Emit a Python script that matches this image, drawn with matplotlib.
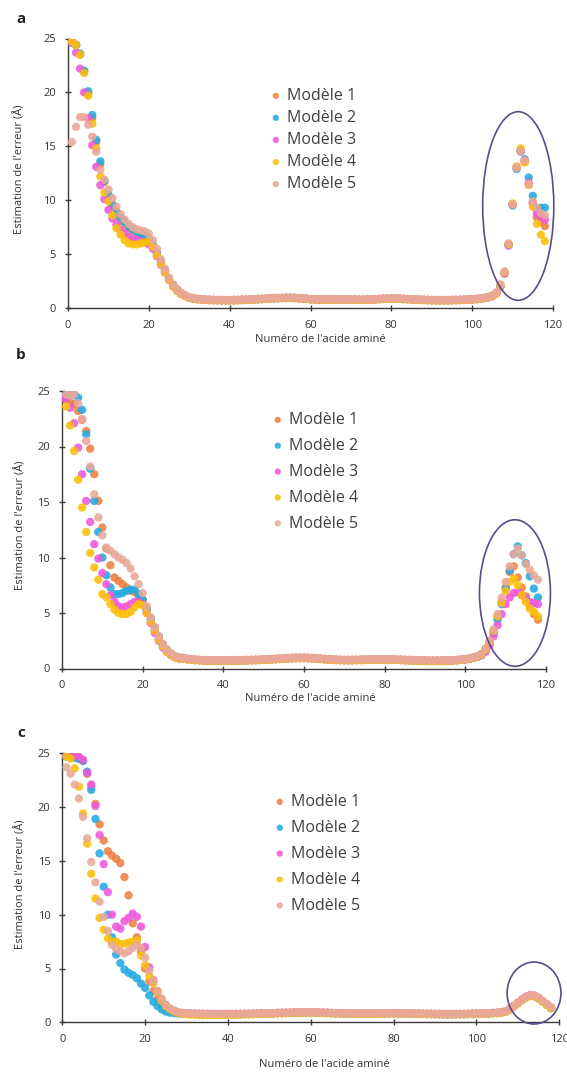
import numpy as np
import matplotlib
matplotlib.use('Agg')
import matplotlib.pyplot as plt
from matplotlib.patches import Ellipse

plt.rcParams['font.family'] = ['Open Sans', 'DejaVu Sans']

residues = list(range(1, 119))
model_names = ['Modèle 1', 'Modèle 2', 'Modèle 3', 'Modèle 4', 'Modèle 5']
model_colors = ['#EE8040', '#22AAE2', '#EE58DA', '#FBC00A', '#E9A89A']

# ---- panel a ----
a_m1 = [24.7, 24.4, 23.5, 22.0, 19.9, 17.6, 15.4, 13.3, 11.7, 10.4,
        9.5, 8.8, 8.2, 7.8, 7.4, 7.2, 7.0, 6.9, 6.7, 6.4,
        5.8, 5.0, 4.2, 3.4, 2.7, 2.1, 1.7, 1.35, 1.15,
        1.0, 0.9, 0.85, 0.8, 0.78, 0.76, 0.75, 0.74, 0.74, 0.73,
        0.73, 0.74, 0.75, 0.76, 0.77, 0.79, 0.81, 0.83, 0.85, 0.87,
        0.89, 0.91, 0.93, 0.94, 0.95, 0.95, 0.94, 0.92, 0.89, 0.86,
        0.83, 0.81, 0.8, 0.79, 0.79, 0.79, 0.8, 0.81, 0.81, 0.8,
        0.79, 0.78, 0.77, 0.77, 0.78, 0.8, 0.82, 0.84, 0.86, 0.87,
        0.88, 0.88, 0.87, 0.85, 0.83, 0.81, 0.79, 0.77, 0.76, 0.75,
        0.74, 0.73, 0.73, 0.73, 0.73, 0.74, 0.75, 0.76, 0.77, 0.79,
        0.81, 0.84, 0.88, 0.94, 1.02, 1.15, 1.4, 2.1, 3.3, 5.9,
        9.6, 13.0, 14.6, 13.6, 11.5, 9.8, 8.4, 8.0, 7.6]
a_m2 = [24.6, 24.4, 23.6, 22.0, 20.1, 17.9, 15.6, 13.6, 11.8, 10.5,
        9.6, 8.9, 8.4, 8.0, 7.6, 7.3, 7.1, 6.9, 6.7, 6.4,
        5.9, 5.1, 4.3, 3.5, 2.7, 2.1, 1.7, 1.35, 1.15,
        0.98, 0.88, 0.83, 0.79, 0.77, 0.75, 0.74, 0.73, 0.72, 0.72,
        0.72, 0.73, 0.74, 0.75, 0.76, 0.78, 0.8, 0.82, 0.84, 0.86,
        0.88, 0.9, 0.92, 0.93, 0.94, 0.94, 0.93, 0.91, 0.88, 0.85,
        0.82, 0.8, 0.79, 0.78, 0.78, 0.78, 0.79, 0.8, 0.8, 0.79,
        0.78, 0.77, 0.76, 0.76, 0.77, 0.79, 0.81, 0.83, 0.85, 0.86,
        0.87, 0.87, 0.86, 0.84, 0.82, 0.8, 0.78, 0.76, 0.75, 0.74,
        0.73, 0.72, 0.72, 0.72, 0.72, 0.73, 0.74, 0.75, 0.76, 0.78,
        0.8, 0.83, 0.87, 0.93, 1.0, 1.12, 1.38, 2.0, 3.2, 5.8,
        9.5, 12.9, 14.5, 13.8, 12.1, 10.4, 9.2, 9.3, 9.3]
a_m3 = [24.6, 23.7, 22.2, 20.0, 17.6, 15.1, 13.1, 11.4, 10.1, 9.1,
        8.3, 7.7, 7.2, 6.9, 6.6, 6.4, 6.3, 6.2, 6.1, 5.9,
        5.5, 4.8, 4.0, 3.3, 2.6, 2.0, 1.6, 1.3, 1.1,
        0.95, 0.86, 0.81, 0.78, 0.76, 0.74, 0.73, 0.72, 0.72, 0.71,
        0.71, 0.72, 0.73, 0.74, 0.75, 0.77, 0.79, 0.81, 0.83, 0.85,
        0.87, 0.89, 0.91, 0.92, 0.93, 0.93, 0.92, 0.9, 0.87, 0.84,
        0.81, 0.79, 0.78, 0.77, 0.77, 0.77, 0.78, 0.79, 0.79, 0.78,
        0.77, 0.76, 0.75, 0.75, 0.76, 0.78, 0.8, 0.82, 0.84, 0.85,
        0.86, 0.86, 0.85, 0.83, 0.81, 0.79, 0.77, 0.75, 0.74, 0.73,
        0.72, 0.71, 0.71, 0.71, 0.71, 0.72, 0.73, 0.74, 0.75, 0.77,
        0.79, 0.82, 0.86, 0.92, 0.99, 1.1, 1.35, 2.0, 3.2, 5.8,
        9.6, 13.1, 14.6, 13.6, 11.6, 9.7, 8.8, 8.5, 8.2]
a_m4 = [24.7, 24.4, 23.5, 21.8, 19.7, 17.1, 14.8, 12.2, 10.7, 9.9,
        8.6, 7.4, 6.8, 6.3, 6.0, 5.9, 5.9, 6.0, 6.1, 6.2,
        5.7, 4.9, 4.1, 3.3, 2.6, 2.0, 1.6, 1.3, 1.1,
        0.95, 0.85, 0.8, 0.77, 0.75, 0.73, 0.72, 0.71, 0.71, 0.7,
        0.7, 0.71, 0.72, 0.73, 0.74, 0.76, 0.78, 0.8, 0.82, 0.84,
        0.86, 0.88, 0.9, 0.91, 0.92, 0.92, 0.91, 0.89, 0.86, 0.83,
        0.8, 0.78, 0.77, 0.76, 0.76, 0.76, 0.77, 0.78, 0.78, 0.77,
        0.76, 0.75, 0.74, 0.74, 0.75, 0.77, 0.79, 0.81, 0.83, 0.84,
        0.85, 0.85, 0.84, 0.82, 0.8, 0.78, 0.76, 0.74, 0.73, 0.72,
        0.71, 0.7, 0.7, 0.7, 0.7, 0.71, 0.72, 0.73, 0.74, 0.76,
        0.78, 0.81, 0.85, 0.91, 0.98, 1.1, 1.35, 2.1, 3.3, 5.9,
        9.7, 13.1, 14.8, 13.5, 11.4, 9.4, 7.8, 6.8, 6.2]
a_m5 = [15.4, 16.8, 17.7, 17.7, 17.0, 15.9, 14.5, 12.8, 11.9, 11.0,
        10.2, 9.4, 8.7, 8.2, 7.8, 7.5, 7.3, 7.2, 7.1, 6.9,
        6.3, 5.5, 4.5, 3.6, 2.8, 2.2, 1.75, 1.4, 1.2,
        1.02, 0.92, 0.86, 0.82, 0.8, 0.78, 0.77, 0.76, 0.76, 0.75,
        0.75, 0.76, 0.77, 0.78, 0.79, 0.81, 0.83, 0.85, 0.87, 0.89,
        0.91, 0.93, 0.95, 0.96, 0.97, 0.97, 0.96, 0.94, 0.91, 0.88,
        0.85, 0.83, 0.82, 0.81, 0.81, 0.81, 0.82, 0.83, 0.83, 0.82,
        0.81, 0.8, 0.79, 0.79, 0.8, 0.82, 0.84, 0.86, 0.88, 0.89,
        0.9, 0.9, 0.89, 0.87, 0.85, 0.83, 0.81, 0.79, 0.78, 0.77,
        0.76, 0.75, 0.75, 0.75, 0.75, 0.76, 0.77, 0.78, 0.79, 0.81,
        0.83, 0.86, 0.9, 0.96, 1.04, 1.18, 1.45, 2.2, 3.4, 6.0,
        9.6, 13.0, 14.5, 13.7, 11.5, 9.9, 9.3, 8.8, 8.6]

# ---- panel b ----
b_m1 = [24.2, 24.0, 23.8, 23.2, 22.4, 21.4, 19.8, 17.5, 15.1, 12.7,
        10.8, 9.3, 8.2, 7.9, 7.6, 7.3, 7.0, 6.9, 6.6, 6.2,
        5.4, 4.5, 3.7, 2.9, 2.2, 1.7, 1.35, 1.1, 1.0,
        0.95, 0.88, 0.84, 0.8, 0.78, 0.76, 0.75, 0.74, 0.74, 0.74,
        0.74, 0.74, 0.75, 0.75, 0.76, 0.76, 0.77, 0.78, 0.79, 0.8,
        0.82, 0.84, 0.86, 0.88, 0.9, 0.92, 0.94, 0.96, 0.97, 0.98,
        0.98, 0.97, 0.95, 0.93, 0.9, 0.87, 0.84, 0.82, 0.8, 0.79,
        0.78, 0.78, 0.78, 0.79, 0.8, 0.81, 0.82, 0.83, 0.84, 0.84,
        0.84, 0.83, 0.82, 0.81, 0.8, 0.78, 0.77, 0.76, 0.75, 0.74,
        0.73, 0.72, 0.72, 0.72, 0.72, 0.73, 0.74, 0.76, 0.78, 0.81,
        0.85, 0.9, 0.98, 1.1, 1.3, 1.7, 2.4, 3.3, 4.6, 6.0,
        7.3, 8.7, 9.2, 8.2, 7.3, 6.5, 5.6, 4.9, 4.4]
b_m2 = [24.6, 24.7, 24.7, 24.4, 23.3, 21.1, 18.0, 15.1, 12.3, 10.0,
        8.4, 7.3, 6.7, 6.7, 6.8, 7.0, 7.1, 7.1, 6.7, 6.2,
        5.2, 4.3, 3.5, 2.7, 2.1, 1.6, 1.3, 1.1, 0.95,
        0.9, 0.84, 0.8, 0.77, 0.75, 0.73, 0.72, 0.71, 0.71, 0.71,
        0.71, 0.71, 0.72, 0.72, 0.73, 0.73, 0.74, 0.75, 0.76, 0.77,
        0.79, 0.81, 0.83, 0.85, 0.87, 0.89, 0.91, 0.93, 0.94, 0.95,
        0.95, 0.94, 0.92, 0.9, 0.87, 0.84, 0.81, 0.79, 0.77, 0.76,
        0.75, 0.75, 0.75, 0.76, 0.77, 0.78, 0.79, 0.8, 0.81, 0.81,
        0.81, 0.8, 0.79, 0.78, 0.77, 0.75, 0.74, 0.73, 0.72, 0.71,
        0.7, 0.69, 0.69, 0.69, 0.69, 0.7, 0.71, 0.73, 0.75, 0.78,
        0.82, 0.87, 0.95, 1.05, 1.2, 1.6, 2.3, 3.2, 4.4, 5.8,
        7.2, 8.8, 10.3, 11.0, 10.2, 9.5, 8.3, 7.2, 6.4]
b_m3 = [24.3, 23.5, 22.1, 19.9, 17.5, 15.1, 13.2, 11.2, 9.9, 8.6,
        7.6, 6.6, 6.0, 5.6, 5.5, 5.6, 5.8, 6.0, 6.0, 5.8,
        5.0, 4.1, 3.2, 2.5, 1.9, 1.5, 1.2, 1.0, 0.9,
        0.88, 0.83, 0.79, 0.76, 0.74, 0.72, 0.71, 0.7, 0.7, 0.7,
        0.7, 0.7, 0.71, 0.71, 0.72, 0.72, 0.73, 0.74, 0.75, 0.76,
        0.78, 0.8, 0.82, 0.84, 0.86, 0.88, 0.9, 0.92, 0.93, 0.94,
        0.94, 0.93, 0.91, 0.89, 0.86, 0.83, 0.8, 0.78, 0.76, 0.75,
        0.74, 0.74, 0.74, 0.75, 0.76, 0.77, 0.78, 0.79, 0.8, 0.8,
        0.8, 0.79, 0.78, 0.77, 0.76, 0.74, 0.73, 0.72, 0.71, 0.7,
        0.69, 0.68, 0.68, 0.68, 0.68, 0.69, 0.7, 0.72, 0.74, 0.77,
        0.81, 0.86, 0.94, 1.05, 1.2, 1.5, 2.1, 2.9, 3.9, 4.9,
        5.8, 6.4, 6.8, 6.9, 6.6, 6.3, 6.0, 5.9, 5.8]
b_m4 = [23.6, 21.9, 19.6, 17.0, 14.5, 12.3, 10.4, 9.1, 8.0, 6.7,
        6.4, 5.8, 5.3, 5.0, 4.9, 4.9, 5.1, 5.5, 5.8, 5.7,
        5.0, 4.2, 3.4, 2.6, 2.0, 1.5, 1.2, 1.0, 0.9,
        0.87, 0.82, 0.78, 0.75, 0.73, 0.71, 0.7, 0.69, 0.69, 0.69,
        0.69, 0.69, 0.7, 0.7, 0.71, 0.71, 0.72, 0.73, 0.74, 0.75,
        0.77, 0.79, 0.81, 0.83, 0.85, 0.87, 0.89, 0.91, 0.92, 0.93,
        0.93, 0.92, 0.9, 0.88, 0.85, 0.82, 0.79, 0.77, 0.75, 0.74,
        0.73, 0.73, 0.73, 0.74, 0.75, 0.76, 0.77, 0.78, 0.79, 0.79,
        0.79, 0.78, 0.77, 0.76, 0.75, 0.73, 0.72, 0.71, 0.7, 0.69,
        0.68, 0.67, 0.67, 0.67, 0.67, 0.68, 0.69, 0.71, 0.73, 0.77,
        0.83, 0.88, 0.96, 1.08, 1.25, 1.7, 2.4, 3.4, 4.7, 5.9,
        7.0, 7.8, 8.1, 7.5, 6.6, 6.0, 5.4, 5.1, 4.7]
b_m5 = [24.7, 24.6, 24.7, 23.9, 22.5, 20.5, 18.2, 15.7, 13.6, 12.0,
        10.9, 10.6, 10.3, 10.0, 9.8, 9.5, 9.0, 8.3, 7.6, 6.8,
        5.6, 4.6, 3.7, 2.9, 2.2, 1.7, 1.35, 1.1, 1.0,
        0.96, 0.89, 0.85, 0.81, 0.79, 0.77, 0.76, 0.75, 0.75, 0.75,
        0.75, 0.75, 0.76, 0.76, 0.77, 0.77, 0.78, 0.79, 0.8, 0.81,
        0.83, 0.85, 0.87, 0.89, 0.91, 0.93, 0.95, 0.97, 0.98, 0.99,
        0.99, 0.98, 0.96, 0.94, 0.91, 0.88, 0.85, 0.83, 0.81, 0.8,
        0.79, 0.79, 0.79, 0.8, 0.81, 0.82, 0.83, 0.84, 0.85, 0.85,
        0.85, 0.84, 0.83, 0.82, 0.81, 0.79, 0.78, 0.77, 0.76, 0.75,
        0.74, 0.73, 0.73, 0.73, 0.73, 0.74, 0.75, 0.77, 0.79, 0.82,
        0.86, 0.92, 1.0, 1.12, 1.3, 1.8, 2.5, 3.5, 4.9, 6.4,
        7.8, 9.2, 10.3, 10.8, 10.2, 9.4, 8.9, 8.4, 8.0]

# ---- panel c ----
c_m1 = [24.7, 24.7, 24.6, 24.5, 24.3, 23.1, 21.9, 20.3, 18.4, 16.9,
        15.9, 15.5, 15.2, 14.8, 13.5, 11.8, 9.2, 7.9, 6.6, 5.0,
        3.8, 2.9, 2.2, 1.6, 1.3, 1.1, 0.98, 0.9, 0.85,
        0.82, 0.8, 0.79, 0.78, 0.77, 0.77, 0.76, 0.76, 0.76, 0.76,
        0.76, 0.76, 0.77, 0.77, 0.78, 0.78, 0.79, 0.8, 0.81, 0.82,
        0.83, 0.84, 0.86, 0.87, 0.88, 0.89, 0.9, 0.91, 0.91, 0.92,
        0.92, 0.91, 0.9, 0.89, 0.88, 0.86, 0.85, 0.84, 0.83, 0.82,
        0.82, 0.81, 0.81, 0.81, 0.81, 0.82, 0.82, 0.83, 0.83, 0.84,
        0.84, 0.84, 0.83, 0.83, 0.82, 0.81, 0.8, 0.79, 0.78, 0.78,
        0.77, 0.77, 0.76, 0.76, 0.76, 0.76, 0.77, 0.77, 0.78, 0.79,
        0.8, 0.81, 0.82, 0.84, 0.86, 0.88, 0.92, 1.0, 1.2, 1.5,
        1.8, 2.1, 2.35, 2.5, 2.45, 2.25, 1.95, 1.65, 1.35]
c_m2 = [24.7, 24.7, 24.6, 24.5, 24.3, 23.3, 21.6, 18.9, 15.7, 12.6,
        10.0, 7.9, 6.3, 5.5, 4.9, 4.6, 4.4, 4.1, 3.6, 3.2,
        2.5, 1.9, 1.5, 1.2, 1.0, 0.9, 0.85, 0.82, 0.8,
        0.79, 0.78, 0.77, 0.76, 0.75, 0.75, 0.74, 0.74, 0.74, 0.74,
        0.74, 0.74, 0.75, 0.75, 0.76, 0.76, 0.77, 0.78, 0.79, 0.8,
        0.81, 0.82, 0.84, 0.85, 0.86, 0.87, 0.88, 0.89, 0.89, 0.9,
        0.9, 0.89, 0.88, 0.87, 0.86, 0.84, 0.83, 0.82, 0.81, 0.8,
        0.8, 0.79, 0.79, 0.79, 0.79, 0.8, 0.8, 0.81, 0.81, 0.82,
        0.82, 0.82, 0.81, 0.81, 0.8, 0.79, 0.78, 0.77, 0.76, 0.76,
        0.75, 0.75, 0.74, 0.74, 0.74, 0.74, 0.75, 0.75, 0.76, 0.77,
        0.78, 0.79, 0.8, 0.82, 0.84, 0.86, 0.9, 0.98, 1.18, 1.48,
        1.78, 2.08, 2.32, 2.46, 2.42, 2.22, 1.92, 1.62, 1.32]
c_m3 = [24.8, 24.8, 24.8, 24.7, 24.4, 23.2, 22.1, 20.1, 17.4, 14.7,
        12.1, 10.0, 8.9, 8.7, 9.4, 9.7, 10.1, 9.8, 8.9, 7.0,
        5.1, 3.9, 2.9, 2.1, 1.6, 1.25, 1.05, 0.93, 0.87,
        0.83, 0.81, 0.8, 0.79, 0.78, 0.78, 0.77, 0.77, 0.77, 0.77,
        0.77, 0.77, 0.78, 0.78, 0.79, 0.79, 0.8, 0.81, 0.82, 0.83,
        0.84, 0.85, 0.87, 0.88, 0.89, 0.9, 0.91, 0.92, 0.92, 0.93,
        0.93, 0.92, 0.91, 0.9, 0.89, 0.87, 0.86, 0.85, 0.84, 0.83,
        0.83, 0.82, 0.82, 0.82, 0.82, 0.83, 0.83, 0.84, 0.84, 0.85,
        0.85, 0.85, 0.84, 0.84, 0.83, 0.82, 0.81, 0.8, 0.79, 0.79,
        0.78, 0.78, 0.77, 0.77, 0.77, 0.77, 0.78, 0.78, 0.79, 0.8,
        0.81, 0.82, 0.83, 0.85, 0.87, 0.89, 0.93, 1.02, 1.22, 1.52,
        1.82, 2.12, 2.38, 2.52, 2.46, 2.26, 1.96, 1.66, 1.36]
c_m4 = [24.7, 24.5, 23.6, 21.9, 19.4, 16.6, 13.8, 11.5, 9.7, 8.6,
        7.8, 7.5, 7.5, 7.3, 7.3, 7.4, 7.5, 7.6, 6.2, 5.3,
        4.3, 3.6, 2.8, 2.0, 1.5, 1.2, 1.0, 0.88, 0.8,
        0.75, 0.72, 0.7, 0.69, 0.68, 0.68, 0.68, 0.68, 0.68, 0.69,
        0.69, 0.7, 0.71, 0.72, 0.73, 0.74, 0.75, 0.76, 0.77, 0.78,
        0.8, 0.81, 0.83, 0.84, 0.85, 0.86, 0.87, 0.88, 0.88, 0.89,
        0.89, 0.88, 0.87, 0.86, 0.85, 0.83, 0.82, 0.81, 0.8, 0.79,
        0.79, 0.78, 0.78, 0.78, 0.78, 0.79, 0.79, 0.8, 0.8, 0.81,
        0.81, 0.81, 0.8, 0.8, 0.79, 0.78, 0.77, 0.76, 0.75, 0.75,
        0.74, 0.74, 0.73, 0.73, 0.73, 0.73, 0.74, 0.74, 0.75, 0.76,
        0.77, 0.78, 0.79, 0.81, 0.83, 0.85, 0.89, 0.97, 1.16, 1.46,
        1.76, 2.06, 2.3, 2.44, 2.4, 2.2, 1.9, 1.6, 1.3]
c_m5 = [23.7, 23.1, 22.1, 20.8, 19.1, 17.1, 14.9, 13.0, 11.2, 9.8,
        8.5, 7.2, 6.8, 6.6, 6.4, 6.6, 6.9, 7.2, 6.9, 6.0,
        4.8, 3.8, 2.9, 2.2, 1.6, 1.3, 1.1, 0.95, 0.88,
        0.84, 0.82, 0.81, 0.8, 0.79, 0.79, 0.78, 0.78, 0.78, 0.78,
        0.78, 0.78, 0.79, 0.79, 0.8, 0.8, 0.81, 0.82, 0.83, 0.84,
        0.85, 0.86, 0.88, 0.89, 0.9, 0.91, 0.92, 0.93, 0.93, 0.94,
        0.94, 0.93, 0.92, 0.91, 0.9, 0.88, 0.87, 0.86, 0.85, 0.84,
        0.84, 0.83, 0.83, 0.83, 0.83, 0.84, 0.84, 0.85, 0.85, 0.86,
        0.86, 0.86, 0.85, 0.85, 0.84, 0.83, 0.82, 0.81, 0.8, 0.8,
        0.79, 0.79, 0.78, 0.78, 0.78, 0.78, 0.79, 0.79, 0.8, 0.81,
        0.82, 0.83, 0.84, 0.86, 0.88, 0.9, 0.94, 1.03, 1.24, 1.54,
        1.84, 2.15, 2.4, 2.55, 2.5, 2.3, 2.0, 1.7, 1.4]

panels = [
    dict(letter='a', series=[a_m1, a_m2, a_m3, a_m4, a_m5],
         rect_px=(68, 38.5, 553, 308), ell=(111.4, 9.46, 17.6, 17.5),
         leg_px=(271, 88), leg_space=0.38,
         xlab=(0.52, -0.095), ylab=(-0.087, 0.516), let_px=(21, 19)),
    dict(letter='b', series=[b_m1, b_m2, b_m3, b_m4, b_m5],
         rect_px=(62, 391, 546, 668.5), ell=(112.3, 6.8, 17.6, 13.2),
         leg_px=(273, 412), leg_space=0.62,
         xlab=(0.514, -0.09), ylab=(-0.074, 0.517), let_px=(21, 355)),
    dict(letter='c', series=[c_m1, c_m2, c_m3, c_m4, c_m5],
         rect_px=(62.3, 753.3, 559.3, 1022.3), ell=(113.9, 2.72, 13.0, 5.76),
         leg_px=(275, 794), leg_space=0.62,
         xlab=(0.527, -0.135), ylab=(-0.073, 0.514), let_px=(21, 733)),
]

W, H = 567, 1079
fig = plt.figure(figsize=(W / 100, H / 100), dpi=100)

for p in panels:
    x0, y0, x1, y1 = p['rect_px']
    ax = fig.add_axes([x0 / W, 1 - y1 / H, (x1 - x0) / W, (y1 - y0) / H])
    for vals, name, col in zip(p['series'], model_names, model_colors):
        ax.scatter(residues, vals, s=36, color=col, edgecolors='none',
                   alpha=0.88, label=name, zorder=3)
    ax.set_xlim(0, 120)
    ax.set_ylim(0, 25)
    ax.set_xticks([0, 20, 40, 60, 80, 100, 120])
    ax.set_yticks([0, 5, 10, 15, 20, 25])
    for side in ['top', 'right']:
        ax.spines[side].set_visible(False)
    for side in ['left', 'bottom']:
        ax.spines[side].set_color('#3a3a3a')
        ax.spines[side].set_linewidth(1.0)
    ax.tick_params(direction='inout', length=5, width=1.0, color='#3a3a3a',
                   labelsize=8, labelcolor='#333333', pad=6)
    ax.set_xlabel("Numéro de l'acide aminé", fontsize=8, color='#333333')
    ax.set_ylabel("Estimation de l'erreur (Å)", fontsize=8, color='#333333')
    ax.xaxis.set_label_coords(*p['xlab'])
    ax.yaxis.set_label_coords(*p['ylab'])

    ex, ey, ew, eh = p['ell']
    ax.add_patch(Ellipse((ex, ey), ew, eh, fill=False, edgecolor='#5B4B8A',
                         linewidth=1.2, clip_on=False, zorder=4))

    lx, ly = p['leg_px']
    ax.legend(loc='upper left', bbox_to_anchor=(lx / W, 1 - ly / H),
              bbox_transform=fig.transFigure, frameon=False, fontsize=11.5,
              labelcolor='#404040', scatterpoints=1, markerscale=0.75,
              handlelength=0.6, handletextpad=0.4, labelspacing=p['leg_space'],
              borderpad=0, borderaxespad=0)

    lxp, lyp = p['let_px']
    fig.text(lxp / W, 1 - lyp / H, p['letter'], fontsize=11, fontweight='bold',
             color='#222222', ha='center', va='center')

fig.savefig('out.png', dpi=100)
